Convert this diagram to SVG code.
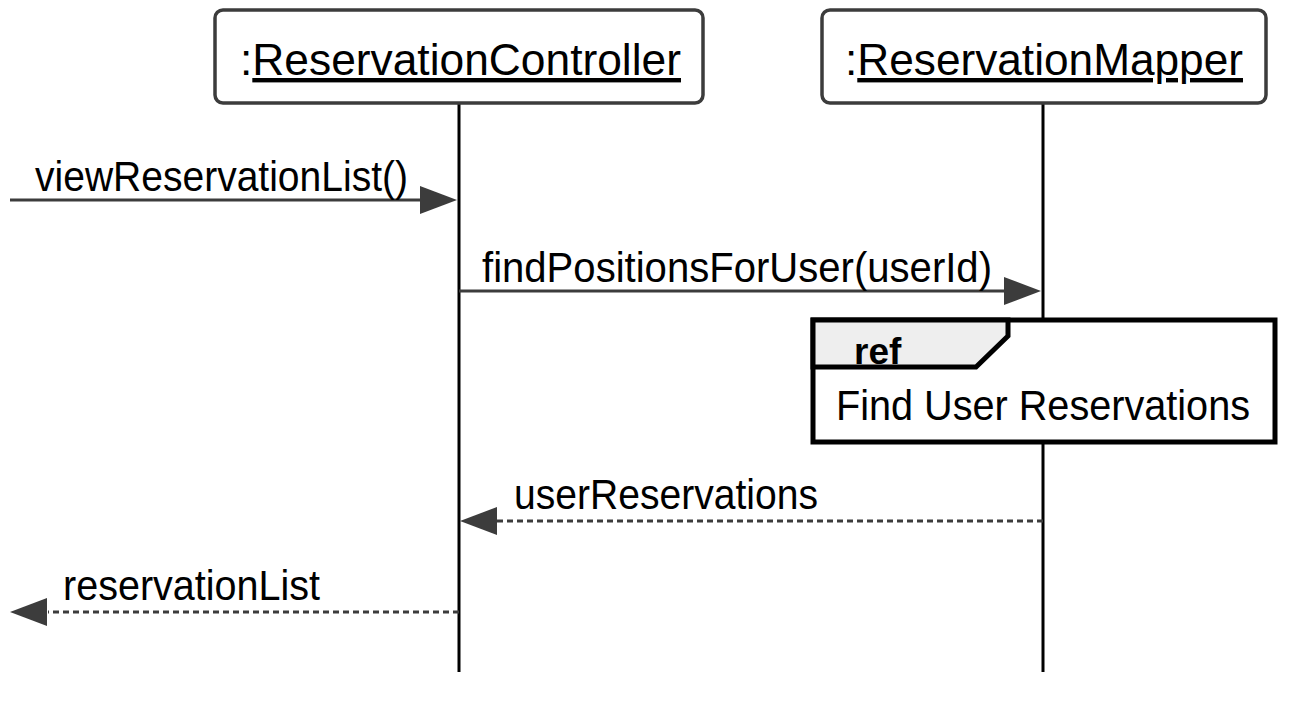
<svg xmlns="http://www.w3.org/2000/svg" width="1309" height="705" viewBox="0 0 1309 705">
<style>
.box{fill:#fff;stroke:#3c3c3c;stroke-width:3.5}
.life{stroke:#000;stroke-width:3;fill:none}
.msg{stroke:#3c3c3c;stroke-width:3;fill:none}
.ret{stroke:#3c3c3c;stroke-width:3;fill:none;stroke-dasharray:6,4}
.head{fill:#3c3c3c}
text{font-family:"Liberation Sans",Arial,sans-serif;fill:#000}
.t{font-size:43px}
.ut{font-size:44px}
</style>
<rect width="1309" height="705" fill="#fff"/>
<g id="lifelines">
<line class="life" x1="459" y1="103" x2="459" y2="672"/>
<line class="life" x1="1043" y1="103" x2="1043" y2="672"/>
</g>
<g id="controller">
<rect class="box" x="215" y="10" width="488" height="93" rx="8"/>
<text class="ut" x="240" y="75" textLength="441" lengthAdjust="spacingAndGlyphs">:<tspan text-decoration="underline">ReservationController</tspan></text>
</g>
<g id="mapper">
<rect class="box" x="822" y="10" width="444" height="93" rx="8"/>
<text class="ut" x="845" y="75" textLength="398" lengthAdjust="spacingAndGlyphs">:<tspan text-decoration="underline">ReservationMapper</tspan></text>
</g>
<g id="connectors">
<line class="msg" x1="10" y1="200" x2="422" y2="200"/>
<polygon class="head" points="420,186 457,200 420,214"/>
<text class="t" x="35" y="191" textLength="373" lengthAdjust="spacingAndGlyphs">viewReservationList()</text>
<line class="msg" x1="459" y1="291" x2="1006" y2="291"/>
<polygon class="head" points="1004,277 1041,291 1004,305"/>
<text class="t" x="482" y="282" textLength="510" lengthAdjust="spacingAndGlyphs">findPositionsForUser(userId)</text>
<line class="ret" x1="1043" y1="521" x2="497" y2="521"/>
<polygon class="head" points="497,507 460,521 497,535"/>
<text class="t" x="514" y="509" textLength="304" lengthAdjust="spacingAndGlyphs">userReservations</text>
<line class="ret" x1="459" y1="612" x2="48" y2="612"/>
<polygon class="head" points="47,598 10,612 47,626"/>
<text class="t" x="63" y="600" textLength="257" lengthAdjust="spacingAndGlyphs">reservationList</text>
</g>
<g id="ref">
<rect x="813" y="320" width="462" height="122" fill="#fff" stroke="#000" stroke-width="5"/>
<path d="M813,320 L1008,320 L1008,336 L976,367 L813,367 Z" fill="#eeeeee" stroke="#000" stroke-width="5" stroke-linejoin="miter"/>
<text x="854" y="364" font-size="37" font-weight="bold">ref</text>
<text class="t" x="836" y="420" textLength="414" lengthAdjust="spacingAndGlyphs">Find User Reservations</text>
</g>
</svg>
